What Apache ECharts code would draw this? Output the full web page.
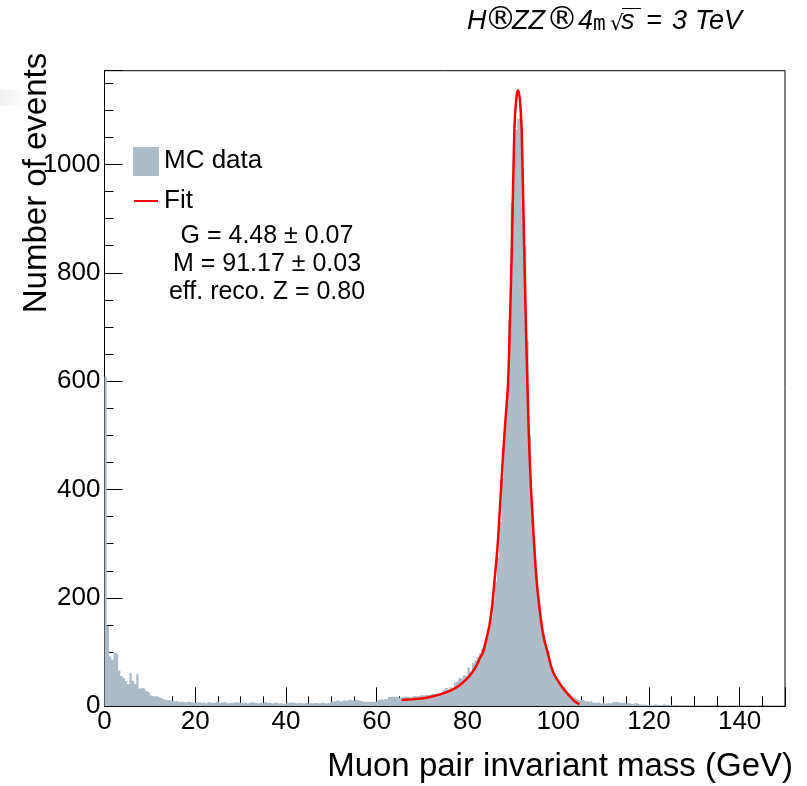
<!DOCTYPE html>
<html><head><meta charset="utf-8">
<script src="https://cdn.jsdelivr.net/npm/echarts@6/dist/echarts.min.js"></script>
<style>html,body{margin:0;padding:0;background:#fff}#c{width:807px;height:786px}</style>
</head><body><div id="c"></div>
<script>
// Histogram: 300 bins of 0.5 GeV from 0 to 150 GeV
const binLow = 0;
const binWidth = 0.5;
const counts = [
  608,148,92,86,99,96,66,56,52,46,
  41,62,47,41,59,33,34,32,28,25,
  20,18,19,17,16,13,12,11,11,10,
  9,10,8,9,8,7,9,8,7,6,
  7,8,6,7,5,8,7,6,7,9, 6,7,8,6,5,7,6,8,7,6,
  6,7,5,6,8,7,6,5,7,6, 8,6,7,5,6,7,5,6,4,5,
  6,7,7,6,5,7,6,5,6,5, 6,5,6,6,5,7,6,5,6,8,
  9,10,11,9,10,11,10,12,11,10, 12,11,10,9,8,9,8,9,8,9,
  12,13,12,14,13,17,18,17,18,16, 16,17,18,17,16,18,19,18,20,21, 20,22,21,22,23,22,24,23,
  25,30,34,31,35,33,44,47,52,50,
  57,56,72,64,80,84,90,98,106,112,
  126,140,165,195,230,275,340,420,505,575,
  714,929,1040,1065,1085,1092,926,849,674,500,
  380,300,240,195,160,132,112,98,80,68,
  58,52,44,40,36,28,24,20,17,14,
  12,11,
  12,9,10,8,11,7,6,8,5,6,
  4,6,5,7,8,8,7,6,7,5,
  6,5,4,6,5,4,3,4,3,2,
  3,2,4,3,2,3,4,2,3,2,
  2,3,1,2,2,1,1,1,0,1,
  1,0,1,1,0,0,1,0,1,0,
  0,1,0,0,1,0,0,0,1,0,
  0,0,1,0,0,0,0,1,0,0,
  0,0,0,1,0,0,0,0,0,1
];
// Fit curve
const fitMass = [65.5,68,70,72,74,76,78,79.8,81,82,82.8,83.4,84.2,84.9,85.5,86.0,86.6,87.1,87.8,88.4,88.95,89.4,89.8,90.35,90.75,91.15,91.55,91.95,92.5,92.9,93.25,93.7,94.3,95.2,96.1,96.8,97.7,98.5,99.3,100.2,101,102,102.5,103.3,104,104.7];
const fitValue = [11.5,13,14.5,17.5,22,28,37,50,62,75,90,99,125,152,190,235,290,357,456,530,595,720,849,1065,1120,1137,1120,1065,849,700,585,460,357,237,166,128,99,72,56,44,34,24,19,12,7,4];
// Axes
const xMin = 0, xMax = 150, xStep = 20;
const yMin = 0, yMax = 1173, yStep = 200;
const statLines = ['G = 4.48 \u00b1 0.07', 'M = 91.17 \u00b1 0.03', 'eff. reco. Z = 0.80'];
const legendNames = ['MC data', 'Fit'];
// Title pieces (text, font key)
const titleParts = [['H', 'i'], ['\u00ae', 'r'], ['ZZ', 'i'], ['\u00ae', 'r'], ['4', 'i'], ['m', 'm'], ['\u221a', 'q'], ['s', 'i'], ['=', 'i'], ['3', 'i'], ['TeV', 'i']];
const titleX = [467, 500.5, 512, 562, 578, 593, 610, 621, 646, 672, 695];

const FONT = '"Liberation Sans", Arial, Helvetica, sans-serif';
const histColor = '#adbcc7';
const titleFonts = {
  i: 'italic 27px ' + FONT,
  r: '32px "DejaVu Sans", sans-serif',
  m: '21px "DejaVu Sans Mono", monospace',
  q: '21px "DejaVu Sans", sans-serif'
};

const histData = counts.map((v, i) => [binLow + i * binWidth, v]);
histData.push([binLow + counts.length * binWidth, counts[counts.length - 1]]);
const fitData = fitMass.map((m, i) => [m, fitValue[i]]);

const titleGraphics = titleParts.map((p, k) => ({
  type: 'text', x: titleX[k], y: p[1] === 'r' ? 37 : 35, silent: true,
  style: {text: p[0], font: titleFonts[p[1]], fill: '#000', textVerticalAlign: 'bottom',
    textAlign: p[1] === 'r' ? 'center' : 'left'}
}));

const chart = echarts.init(document.getElementById('c'), null, {renderer: 'canvas'});
chart.setOption({
  animation: false,
  backgroundColor: '#fff',
  textStyle: {fontFamily: FONT},
  grid: {left: 104.5, right: 22, top: 70.7, bottom: 79.7, show: true, borderColor: '#000', borderWidth: 1, containLabel: false, outerBoundsMode: 'none'},
  xAxis: {
    type: 'value', min: xMin, max: xMax, interval: xStep,
    axisLine: {show: true, onZero: false, lineStyle: {color: '#000', width: 1}},
    axisTick: {show: true, inside: true, length: 19, lineStyle: {color: '#000', width: 1}},
    minorTick: {show: true, splitNumber: 4, length: 10, lineStyle: {color: '#000', width: 1}},
    splitLine: {show: false}, minorSplitLine: {show: false},
    axisLabel: {color: '#000', fontSize: 26, fontFamily: FONT, margin: 3,
      formatter: v => (v % xStep === 0 ? String(v) : '')}
  },
  yAxis: {
    type: 'value', min: yMin, max: yMax, interval: yStep,
    axisLine: {show: true, lineStyle: {color: '#000', width: 1}},
    axisTick: {show: true, inside: true, length: 18, lineStyle: {color: '#000', width: 1}},
    minorTick: {show: true, splitNumber: 4, length: 9, lineStyle: {color: '#000', width: 1}},
    splitLine: {show: false}, minorSplitLine: {show: false},
    axisLabel: {color: '#000', fontSize: 26, fontFamily: FONT, margin: 4,
      formatter: v => (v % yStep === 0 ? String(v) : '')}
  },
  series: [
    {
      name: legendNames[0], type: 'line', step: 'end', data: histData,
      showSymbol: false, symbol: 'none', clip: true, z: 1,
      lineStyle: {width: 0, color: histColor},
      itemStyle: {color: histColor},
      areaStyle: {color: histColor, opacity: 1, origin: 'start'}
    },
    {
      name: legendNames[1], type: 'line', data: fitData, smooth: 0.3,
      showSymbol: false, symbol: 'none', clip: true, z: 3,
      lineStyle: {width: 2.5, color: '#ff0000'}, itemStyle: {color: '#ff0000'}
    }
  ],
  graphic: titleGraphics.concat([
    {type: 'rect', shape: {x: 0, y: 90, width: 26, height: 16}, silent: true,
      style: {fill: new echarts.graphic.LinearGradient(0, 0, 1, 0, [{offset: 0, color: '#f0f0f0'}, {offset: 1, color: '#ffffff'}])}},
    {type: 'line', shape: {x1: 622, y1: 8.5, x2: 641, y2: 8.5}, style: {stroke: '#000', lineWidth: 1}, silent: true},
    {type: 'rect', shape: {x: 133, y: 147, width: 26, height: 29}, style: {fill: histColor}, silent: true},
    {type: 'text', x: 164, y: 161, silent: true,
      style: {text: legendNames[0], font: '26px ' + FONT, fill: '#000', textVerticalAlign: 'middle'}},
    {type: 'line', shape: {x1: 134, y1: 201, x2: 158, y2: 201}, style: {stroke: '#ff0000', lineWidth: 2}, silent: true},
    {type: 'text', x: 164, y: 201, silent: true,
      style: {text: legendNames[1], font: '26px ' + FONT, fill: '#000', textVerticalAlign: 'middle'}},
    {type: 'text', x: 267, y: 236, silent: true,
      style: {text: statLines[0], font: '25px ' + FONT, fill: '#000', textAlign: 'center', textVerticalAlign: 'middle'}},
    {type: 'text', x: 267, y: 264, silent: true,
      style: {text: statLines[1], font: '25px ' + FONT, fill: '#000', textAlign: 'center', textVerticalAlign: 'middle'}},
    {type: 'text', x: 267, y: 292, silent: true,
      style: {text: statLines[2], font: '25px ' + FONT, fill: '#000', textAlign: 'center', textVerticalAlign: 'middle'}},
    {type: 'text', x: 37, y: 183, rotation: Math.PI / 2, silent: true,
      style: {text: 'Number of events', font: '33px ' + FONT, fill: '#000', textAlign: 'center', textVerticalAlign: 'middle'}},
    {type: 'text', x: 793, y: 767, silent: true,
      style: {text: 'Muon pair invariant mass (GeV)', font: '33px ' + FONT, fill: '#000', textAlign: 'right', textVerticalAlign: 'middle'}}
  ])
});
</script></body></html>
